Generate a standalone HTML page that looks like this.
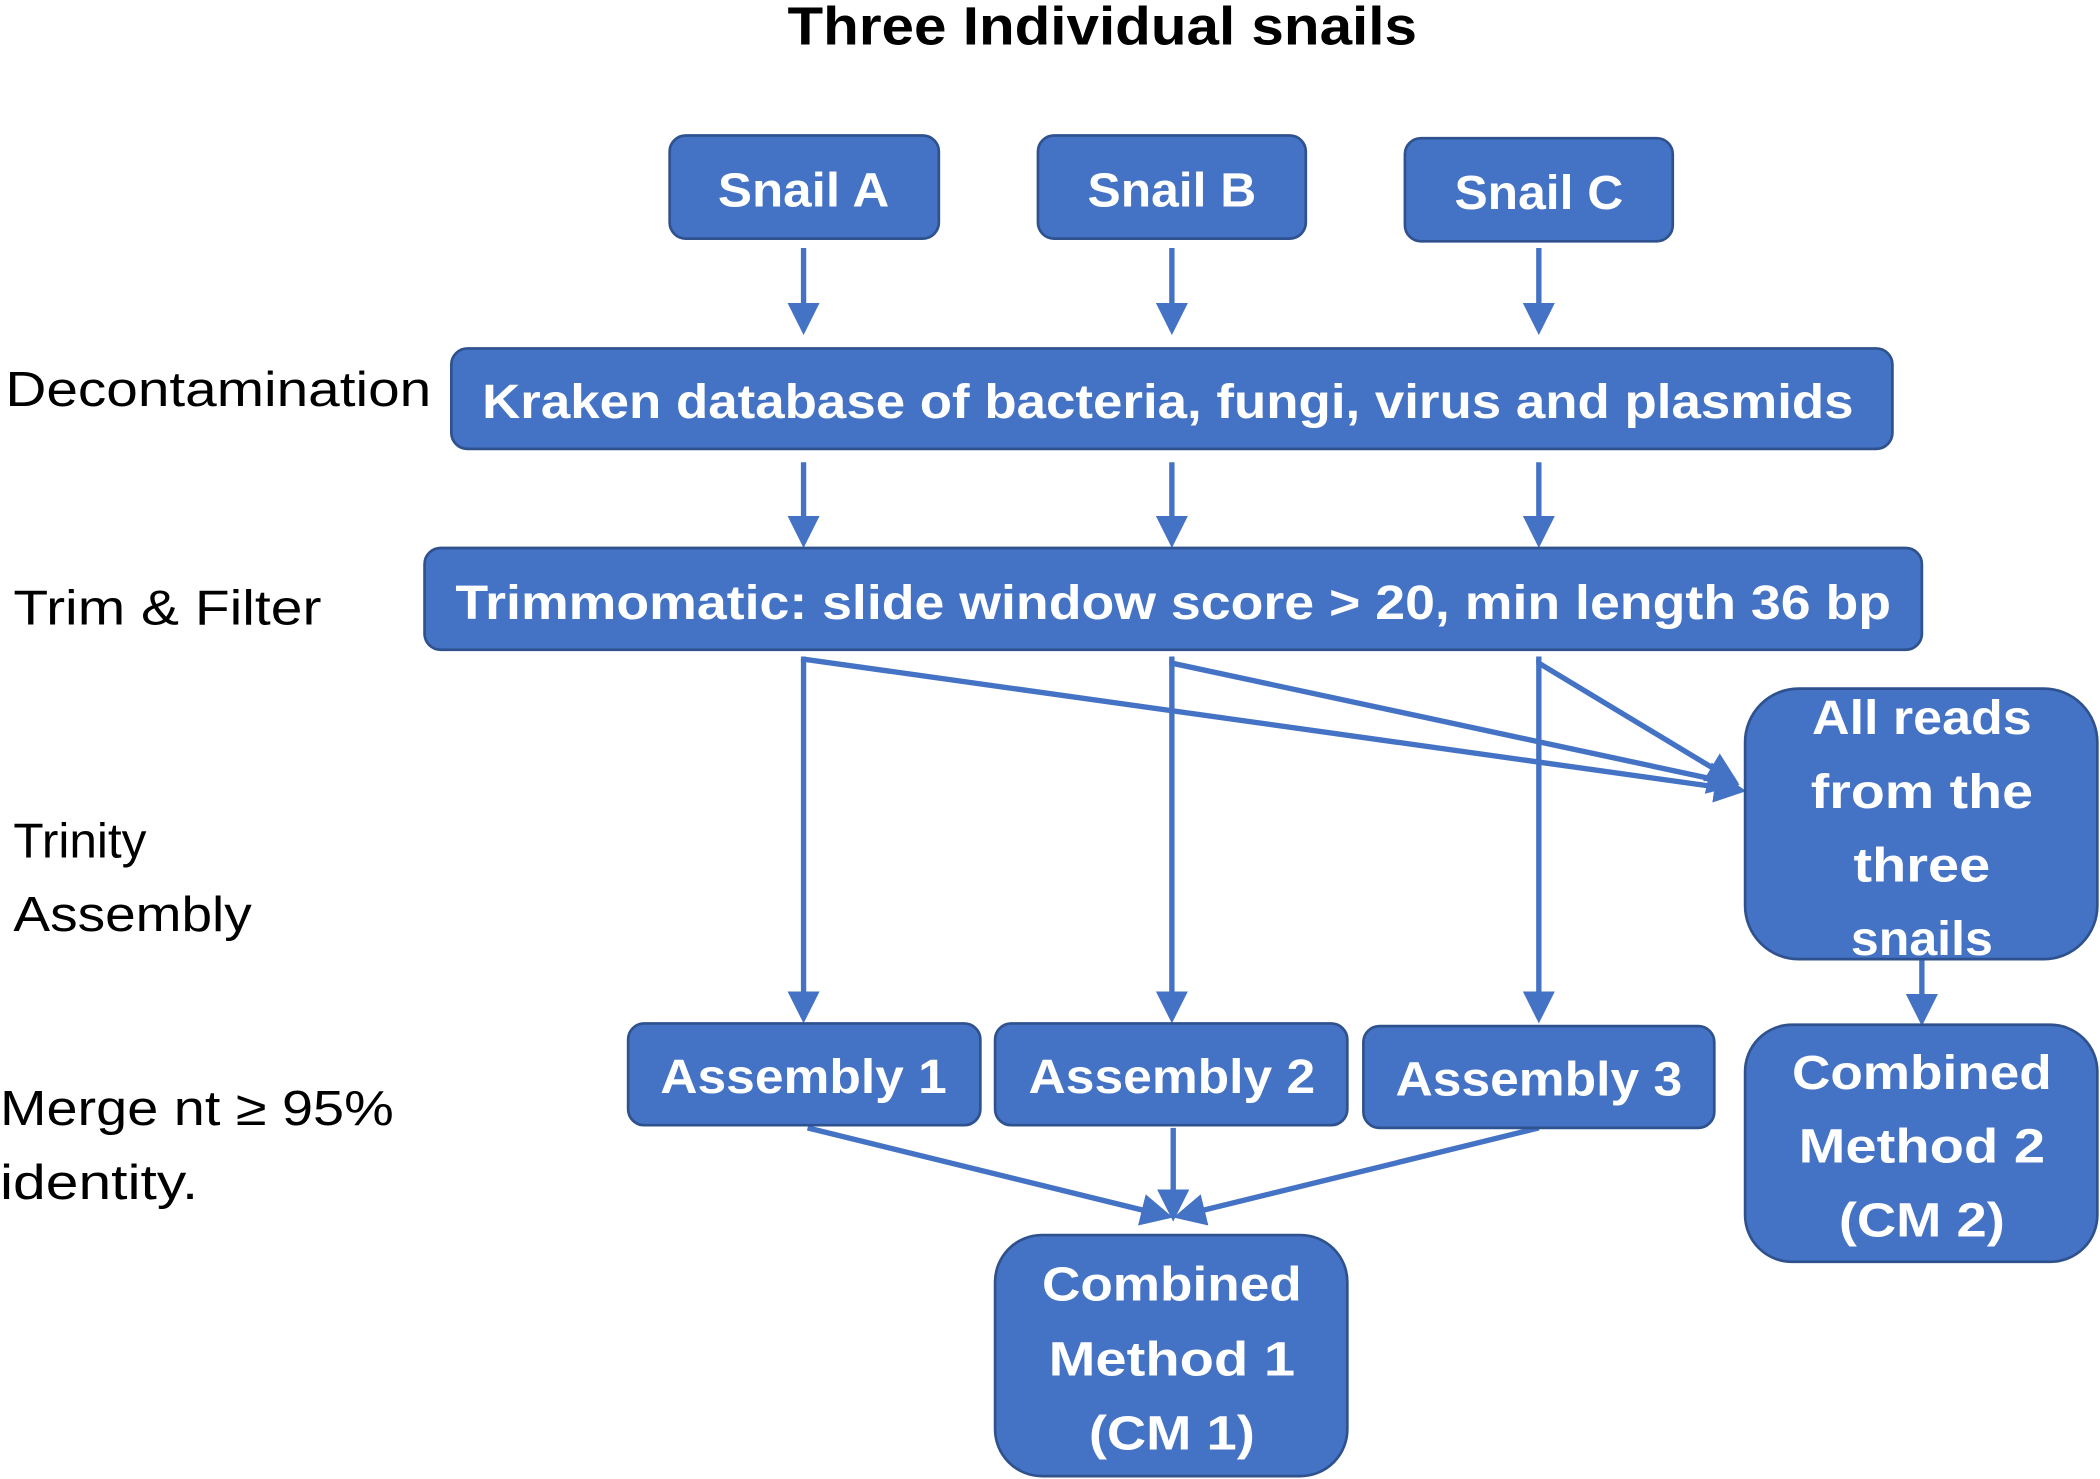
<!DOCTYPE html>
<html><head><meta charset="utf-8"><style>
html,body{margin:0;padding:0;background:#fff;}
svg{display:block;}
text{font-family:"Liberation Sans",sans-serif;}
.w{fill:#fff;font-weight:bold;font-size:36px;text-anchor:middle;}
.k{fill:#000;font-size:37px;}
.b{fill:#4472C4;stroke:#2F528F;stroke-width:2;}
.l{stroke:#4472C4;stroke-width:4;fill:none;}
</style></head><body>
<svg width="2100" height="1479" viewBox="0 0 1568 1104" xmlns="http://www.w3.org/2000/svg">
<defs><marker id="a" markerWidth="6" markerHeight="6" refX="5" refY="3" orient="auto" markerUnits="strokeWidth"><path d="M0,0 L6,3 L0,6 z" fill="#4472C4"/></marker></defs>
<text x="823" y="33" font-size="40" font-weight="bold" text-anchor="middle" textLength="470" lengthAdjust="spacingAndGlyphs">Three Individual snails</text>
<rect class="b" x="500" y="101" width="201" height="77" rx="12"/>
<rect class="b" x="775" y="101" width="200" height="77" rx="12"/>
<rect class="b" x="1049" y="103" width="200" height="77" rx="12"/>
<text class="w" x="600" y="154" textLength="128" lengthAdjust="spacingAndGlyphs">Snail A</text>
<text class="w" x="875" y="154" textLength="126" lengthAdjust="spacingAndGlyphs">Snail B</text>
<text class="w" x="1149" y="156" textLength="126" lengthAdjust="spacingAndGlyphs">Snail C</text>
<g class="l" marker-end="url(#a)">
<line x1="600" y1="185" x2="600" y2="246"/><line x1="875" y1="185" x2="875" y2="246"/><line x1="1149" y1="185" x2="1149" y2="246"/>
<line x1="600" y1="345" x2="600" y2="405"/><line x1="875" y1="345" x2="875" y2="405"/><line x1="1149" y1="345" x2="1149" y2="405"/>
</g>
<text class="k" x="4" y="303" textLength="318" lengthAdjust="spacingAndGlyphs">Decontamination</text>
<rect class="b" x="337" y="260" width="1076" height="75" rx="12"/>
<text class="w" x="872" y="312" textLength="1024" lengthAdjust="spacingAndGlyphs">Kraken database of bacteria, fungi, virus and plasmids</text>
<text class="k" x="10" y="466" textLength="230" lengthAdjust="spacingAndGlyphs">Trim &amp; Filter</text>
<rect class="b" x="317" y="409" width="1118" height="76" rx="12"/>
<text class="w" x="876" y="462" textLength="1072" lengthAdjust="spacingAndGlyphs">Trimmomatic: slide window score &gt; 20, min length 36 bp</text>
<g class="l">
<polyline points="600,490 600,492 1300,590" marker-end="url(#a)"/>
<polyline points="875,490 875,495 1295,585" marker-end="url(#a)"/>
<polyline points="1149,490 1149,495 1295,583" marker-end="url(#a)"/>
<line x1="600" y1="492" x2="600" y2="760" marker-end="url(#a)"/>
<line x1="875" y1="492" x2="875" y2="760" marker-end="url(#a)"/>
<line x1="1149" y1="492" x2="1149" y2="760" marker-end="url(#a)"/>
<line x1="1435" y1="716" x2="1435" y2="762" marker-end="url(#a)"/>
<line x1="603" y1="842" x2="872" y2="908" marker-end="url(#a)"/>
<line x1="876" y1="842" x2="876" y2="908" marker-end="url(#a)"/>
<line x1="1149" y1="842" x2="880" y2="908" marker-end="url(#a)"/>
</g>
<text class="k" x="10" y="640">Trinity</text>
<text class="k" x="10" y="695" textLength="178" lengthAdjust="spacingAndGlyphs">Assembly</text>
<text class="k" x="0" y="840" textLength="294" lengthAdjust="spacingAndGlyphs">Merge nt ≥ 95%</text>
<text class="k" x="0" y="895" textLength="148" lengthAdjust="spacingAndGlyphs">identity.</text>
<rect class="b" x="1303" y="514" width="263" height="202" rx="40"/>
<text class="w" x="1435" y="548" textLength="164" lengthAdjust="spacingAndGlyphs">All reads</text>
<text class="w" x="1435" y="603" textLength="166" lengthAdjust="spacingAndGlyphs">from the</text>
<text class="w" x="1435" y="658" textLength="102" lengthAdjust="spacingAndGlyphs">three</text>
<text class="w" x="1435" y="713" textLength="106" lengthAdjust="spacingAndGlyphs">snails</text>
<rect class="b" x="469" y="764" width="263" height="76" rx="12"/>
<rect class="b" x="743" y="764" width="263" height="76" rx="12"/>
<rect class="b" x="1018" y="766" width="262" height="76" rx="12"/>
<text class="w" x="600" y="816" textLength="214" lengthAdjust="spacingAndGlyphs">Assembly 1</text>
<text class="w" x="875" y="816" textLength="214" lengthAdjust="spacingAndGlyphs">Assembly 2</text>
<text class="w" x="1149" y="818" textLength="214" lengthAdjust="spacingAndGlyphs">Assembly 3</text>
<rect class="b" x="1303" y="765" width="263" height="177" rx="35"/>
<text class="w" x="1435" y="813" textLength="194" lengthAdjust="spacingAndGlyphs">Combined</text>
<text class="w" x="1435" y="868" textLength="184" lengthAdjust="spacingAndGlyphs">Method 2</text>
<text class="w" x="1435" y="923" textLength="124" lengthAdjust="spacingAndGlyphs">(CM 2)</text>
<rect class="b" x="743" y="922" width="263" height="180" rx="35"/>
<text class="w" x="875" y="971" textLength="194" lengthAdjust="spacingAndGlyphs">Combined</text>
<text class="w" x="875" y="1027" textLength="184" lengthAdjust="spacingAndGlyphs">Method 1</text>
<text class="w" x="875" y="1082" textLength="124" lengthAdjust="spacingAndGlyphs">(CM 1)</text>
</svg>
</body></html>
